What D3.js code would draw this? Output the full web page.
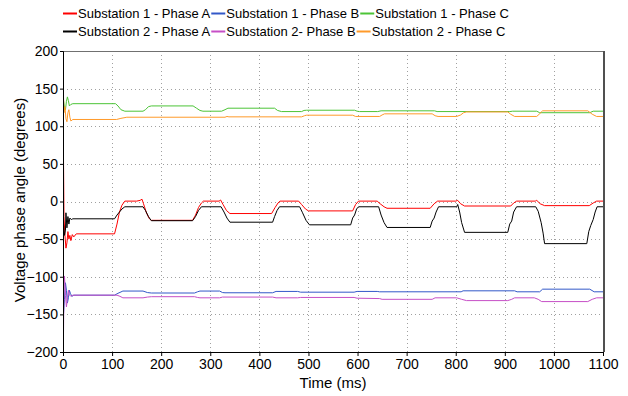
<!DOCTYPE html>
<html><head><meta charset="utf-8">
<script src="https://cdn.jsdelivr.net/npm/d3@7"></script>
<style>body{margin:0;background:#fff}svg{display:block}</style>
</head><body><svg id="c" width="628" height="396"></svg>
<script>
// ---- data ----
const seriesNames = ["Substation 1 - Phase A","Substation 1 - Phase B","Substation 1 - Phase C",
                     "Substation 2 - Phase A","Substation 2- Phase B","Substation 2 - Phase C"];
const seriesColors = ["#ff0000","#3258c8","#4cc437","#000000","#c64fc6","#ff9a2a"];
const xTicks = [0,100,200,300,400,500,600,700,800,900,1000,1100];
const yTicks = [-200,-150,-100,-50,0,50,100,150,200];

const s1a = [[0,180],[1,60],[2,-20],[4,-45],[6,-62],[8,-55],[10,-40],[12,-50],[14,-45],[16,-52],[19,-44],[22,-47],[27,-43],[105,-43],[110,-30],[115,-14],[120,-5],[126,0.5],[150,0.5],[157,1.5],[161,3],[164,-3],[170,-15],[176,-23],[180,-25],[264,-25],[270,-18],[276,-8],[282,-2],[286,0.5],[318,0.5],[321,2],[326,-4],[333,-12],[340,-16],[425,-16],[432,-8],[438,-2],[442,0.5],[480,0.5],[486,-4],[494,-10],[500,-12.5],[590,-12.5],[596,-4],[602,0.5],[640,0.5],[646,-3],[654,-7],[660,-9],[748,-9],[756,-3],[763,0.5],[800,0.5],[804,1.5],[810,-3],[818,-6],[912,-6],[918,-2],[924,0.5],[962,0.5],[965,1.5],[972,-3],[981,-5.5],[1072,-5.5],[1080,-2],[1087,0.5],[1100,0.5]];
const s1b = [[1,-150],[3,-130],[5,-108],[7,-118],[9,-135],[11,-128],[13,-118],[15,-122],[18,-126],[22,-124.5],[105,-124.5],[112,-122],[122,-119],[163,-119],[172,-121],[180,-121.6],[268,-121.6],[274,-120],[279,-119],[319,-119],[325,-121],[330,-121.3],[427,-121.3],[434,-119.5],[478,-119.5],[484,-120.5],[593,-120.5],[599,-119.5],[640,-119.5],[645,-120],[811,-120],[815,-118.7],[920,-118.7],[925,-120],[971,-120],[977,-116.5],[1073,-116.5],[1082,-120],[1100,-120]];
const s1c = [[1,135],[3,124],[5,122],[7,133],[9,139],[11,134],[13,127],[16,129],[20,130],[107,130],[112,127],[118,122],[126,120],[163,120],[168,122],[174,126],[180,127],[265,127],[272,124],[279,121],[285,120],[323,120],[330,122],[336,124],[431,124],[437,121],[445,119.5],[486,119.5],[491,121],[496,121.3],[594,121.3],[599,120],[604,119.5],[641,119.5],[648,120.5],[757,120.5],[762,119.5],[910,119.5],[916,120],[965,120],[971,118],[1073,118],[1080,120],[1100,120]];
const s2a = [[0,-5],[1,-30],[3,-45],[5,-38],[6,-15],[8,-35],[10,-20],[12,-30],[14,-22],[17,-24],[20,-23],[105,-23],[110,-18],[115,-14],[120,-10],[126,-7],[163,-7],[168,-12],[174,-20],[180,-25.5],[264,-25.5],[270,-20],[276,-12],[282,-7],[322,-7],[328,-14],[334,-22],[340,-27.5],[427,-27.5],[431,-20],[436,-12],[441,-7],[482,-7],[488,-15],[495,-25],[502,-31],[586,-31],[590,-22],[594,-18],[598,-10],[602,-7],[643,-7],[648,-18],[654,-28],[660,-34.5],[748,-34.5],[752,-26],[756,-22],[760,-14],[765,-7],[802,-7],[804,-4],[808,-14],[812,-28],[818,-41],[906,-41],[910,-30],[914,-26],[918,-14],[924,-7],[963,-7],[968,-13],[974,-28],[978,-42],[981,-56],[1067,-56],[1071,-40],[1075,-32],[1080,-24],[1084,-14],[1088,-7],[1100,-7]];
const s2b = [[0,180],[1,-178],[2,-110],[3,-99],[5,-125],[7,-140],[9,-128],[11,-118],[13,-124],[16,-126],[20,-124.5],[110,-124.5],[116,-126],[122,-128],[163,-128],[172,-127],[180,-126.5],[268,-126.5],[274,-127.5],[279,-128],[319,-128],[325,-127],[427,-127],[434,-128],[478,-128],[484,-127.5],[593,-127.5],[599,-128.5],[645,-129],[650,-130],[752,-130],[758,-128],[802,-128],[812,-130],[822,-131.7],[906,-131.7],[914,-130],[920,-128],[960,-128],[968,-130],[975,-133],[1069,-133],[1078,-130],[1087,-128],[1100,-128]];
const s2c = [[0,175],[1,140],[2,118],[4,126],[6,110],[8,106],[10,118],[12,122],[14,112],[16,107],[20,109],[109,109],[118,110.5],[130,112],[330,112],[334,113],[338,112.5],[486,112.5],[492,114],[496,114.7],[590,114.7],[596,113],[645,113],[650,115],[655,116.5],[752,116.5],[758,114],[764,113],[802,113],[810,115],[816,118],[822,119],[906,119],[912,116],[920,113],[965,113],[970,116],[977,120.5],[1069,120.5],[1078,116],[1087,113],[1100,113]];
const seriesData = [s1a,s1b,s1c,s2a,s2b,s2c];

// ---- chart ----
const svg = d3.select("#c");
const font = "'Liberation Sans', Arial, sans-serif";
const x = d3.scaleLinear().domain([0,1100]).range([63,603]);
const y = d3.scaleLinear().domain([-200,200]).range([352,51]);

// grid
const grid = svg.append("g").attr("stroke","#a0a0a0").attr("stroke-dasharray","1,3").attr("stroke-width",1);
xTicks.slice(1,-1).forEach(t=>grid.append("line").attr("x1",Math.round(x(t))+0.5).attr("x2",Math.round(x(t))+0.5).attr("y1",y(200)).attr("y2",y(-200)));
yTicks.slice(1,-1).forEach(t=>grid.append("line").attr("y1",Math.round(y(t))+0.5).attr("y2",Math.round(y(t))+0.5).attr("x1",x(0)).attr("x2",x(1100)));

// frame top/right
svg.append("line").attr("x1",x(0)).attr("x2",x(1100)+1).attr("y1",y(200)+0.5).attr("y2",y(200)+0.5).attr("stroke","#707070");
svg.append("line").attr("x1",x(1100)+1).attr("x2",x(1100)+1).attr("y1",y(200)).attr("y2",y(-200)).attr("stroke","#505050").attr("stroke-width",2);

// series
const line = d3.line().x(d=>x(d[0])).y(d=>y(d[1]));
const clip = svg.append("clipPath").attr("id","pc").append("rect").attr("x",x(0)).attr("y",y(200)).attr("width",x(1100)-x(0)).attr("height",y(-200)-y(200));
const lg = svg.append("g").attr("clip-path","url(#pc)");
seriesData.forEach((d,i)=>{
  lg.append("path").datum(d).attr("d",line).attr("fill","none").attr("stroke",seriesColors[i]).attr("stroke-width",1).attr("stroke-linejoin","round");
});

// axes
const xa = svg.append("g").attr("transform",`translate(0,${y(-200)})`).call(d3.axisBottom(x).tickValues(xTicks).tickSize(4).tickPadding(3).tickFormat(d3.format("d")));
const ya = svg.append("g").attr("transform",`translate(${x(0)},0)`).call(d3.axisLeft(y).tickValues(yTicks).tickSize(3).tickPadding(2).tickFormat(d3.format("d")));
[xa,ya].forEach(a=>{a.selectAll("text").attr("font-family",font).attr("font-size",14).attr("fill","#000");a.selectAll("path,line").attr("stroke","#000");});

// axis titles
svg.append("text").attr("x",333).attr("y",388).attr("text-anchor","middle").attr("font-family",font).attr("font-size",15).text("Time (ms)");
svg.append("text").attr("transform","translate(25,200) rotate(-90)").attr("text-anchor","middle").attr("font-family",font).attr("font-size",15).text("Voltage phase angle (degrees)");

// legend
const rows = [[0,1,2],[3,4,5]];
const rowY = [13,31];
rows.forEach((r,ri)=>{
  let cx = 63;
  r.forEach(i=>{
    svg.append("line").attr("x1",cx).attr("x2",cx+14).attr("y1",rowY[ri]+0.5).attr("y2",rowY[ri]+0.5).attr("stroke",seriesColors[i]).attr("stroke-width",2);
    const t = svg.append("text").attr("x",cx+15).attr("y",rowY[ri]+5).attr("font-family",font).attr("font-size",13).text(seriesNames[i]);
    cx += 15 + t.node().getComputedTextLength() + 1;
  });
});
</script></body></html>
